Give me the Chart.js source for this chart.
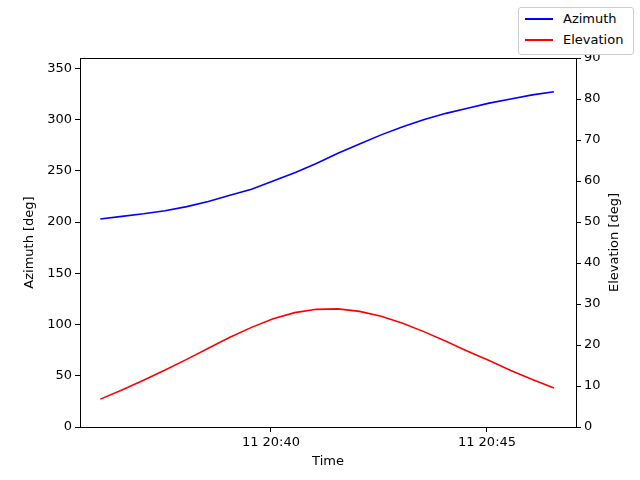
<!DOCTYPE html>
<html>
<head>
<meta charset="utf-8">
<script src="https://cdn.jsdelivr.net/npm/chart.js@4"></script>
<style>
  body { margin: 0; background: #fff; font-family: "DejaVu Sans", sans-serif; }
  #wrap { position: relative; width: 640px; height: 480px; }
  #legend { position: absolute; left: 518px; top: 7px; width: 114px; height: 46px; border: 1px solid #ccc; border-radius: 3px; background: #fff; font-size: 13px; }
  .item { position: absolute; left: 6px; display: flex; align-items: center; }
  .item span.l { display: inline-block; width: 28px; height: 2px; margin-right: 10px; }
</style>
</head>
<body>
<div id="wrap">
  <canvas id="c" width="640" height="480"></canvas>
  <div id="legend">
    <div class="item" style="top:3px"><span class="l" style="background:blue"></span>Azimuth</div>
    <div class="item" style="top:24px"><span class="l" style="background:red"></span>Elevation</div>
  </div>
</div>
<script>
  // minutes after 20:00, every 30 s
  const times = [36.05, 36.55, 37.05, 37.55, 38.05, 38.55, 39.05, 39.55, 40.05, 40.55, 41.05,
                 41.55, 42.05, 42.55, 43.05, 43.55, 44.05, 44.55, 45.05, 45.55, 46.05, 46.55];
  const azimuth = [203, 205.5, 208, 211, 215, 220, 226, 232, 240, 248, 257,
                   267, 276, 285, 293, 300, 306, 311, 316, 320, 324, 327];
  const elevation = [6.8, 9.0, 11.4, 13.9, 16.5, 19.2, 21.9, 24.3, 26.4, 27.9, 28.7,
                     28.8, 28.2, 27.0, 25.3, 23.2, 20.9, 18.5, 16.2, 13.8, 11.6, 9.5];
  const timeTicks = [40, 45];

  const font = { family: "DejaVu Sans", size: 13 };
  Chart.defaults.color = "#000";
  const tickGrid = { display: true, drawOnChartArea: false, color: "#000", tickLength: 5, tickColor: "#000" };

  new Chart(document.getElementById("c"), {
    type: "line",
    data: {
      datasets: [
        { label: "Azimuth", data: times.map((t, i) => ({ x: t, y: azimuth[i] })), borderColor: "blue", yAxisID: "yAz" },
        { label: "Elevation", data: times.map((t, i) => ({ x: t, y: elevation[i] })), borderColor: "red", yAxisID: "yEl" }
      ]
    },
    options: {
      responsive: false,
      animation: false,
      elements: { point: { radius: 0 }, line: { borderWidth: 1.6, tension: 0 } },
      layout: { padding: { top: 58, right: 0, bottom: 0, left: 0 } },
      plugins: { legend: { display: false }, tooltip: { enabled: false } },
      scales: {
        x: {
          type: "linear", min: 35.58, max: 47.06,
          afterBuildTicks: a => { a.ticks = timeTicks.map(v => ({ value: v })); },
          ticks: { font, callback: v => "11 20:" + v, maxRotation: 0, padding: 3 },
          grid: tickGrid,
          border: { color: "#000" },
          afterFit: a => { a.height = 53; }
        },
        yAz: {
          position: "left", min: 0, max: 360,
          afterBuildTicks: a => { a.ticks = [0, 50, 100, 150, 200, 250, 300, 350].map(v => ({ value: v })); },
          ticks: { font, padding: 3 },
          grid: tickGrid,
          border: { color: "#000" },
          afterFit: a => { a.width = 80; }
        },
        yEl: {
          position: "right", min: 0, max: 90,
          ticks: { font, stepSize: 10, padding: 3 },
          grid: tickGrid,
          border: { color: "#000" },
          afterFit: a => { a.width = 64; }
        }
      }
    },
    plugins: [{
      id: "frame",
      afterDraw: c => {
        const { ctx, chartArea: a } = c;
        ctx.save(); ctx.strokeStyle = "#000"; ctx.lineWidth = 1;
        ctx.strokeRect(a.left + 0.5, a.top + 0.5, a.right - a.left, a.bottom - a.top);
        ctx.fillStyle = "#000";
        ctx.font = "13px 'DejaVu Sans'";
        ctx.textAlign = "center"; ctx.textBaseline = "middle";
        ctx.fillText("Time", (a.left + a.right) / 2, 462);
        const midY = (a.top + a.bottom) / 2;
        [[30, "Azimuth [deg]"], [615, "Elevation [deg]"]].forEach(([x, t]) => {
          ctx.save(); ctx.translate(x, midY); ctx.rotate(-Math.PI / 2);
          ctx.fillText(t, 0, 0); ctx.restore();
        });
        ctx.restore();
      }
    }]
  });
</script>
</body>
</html>
